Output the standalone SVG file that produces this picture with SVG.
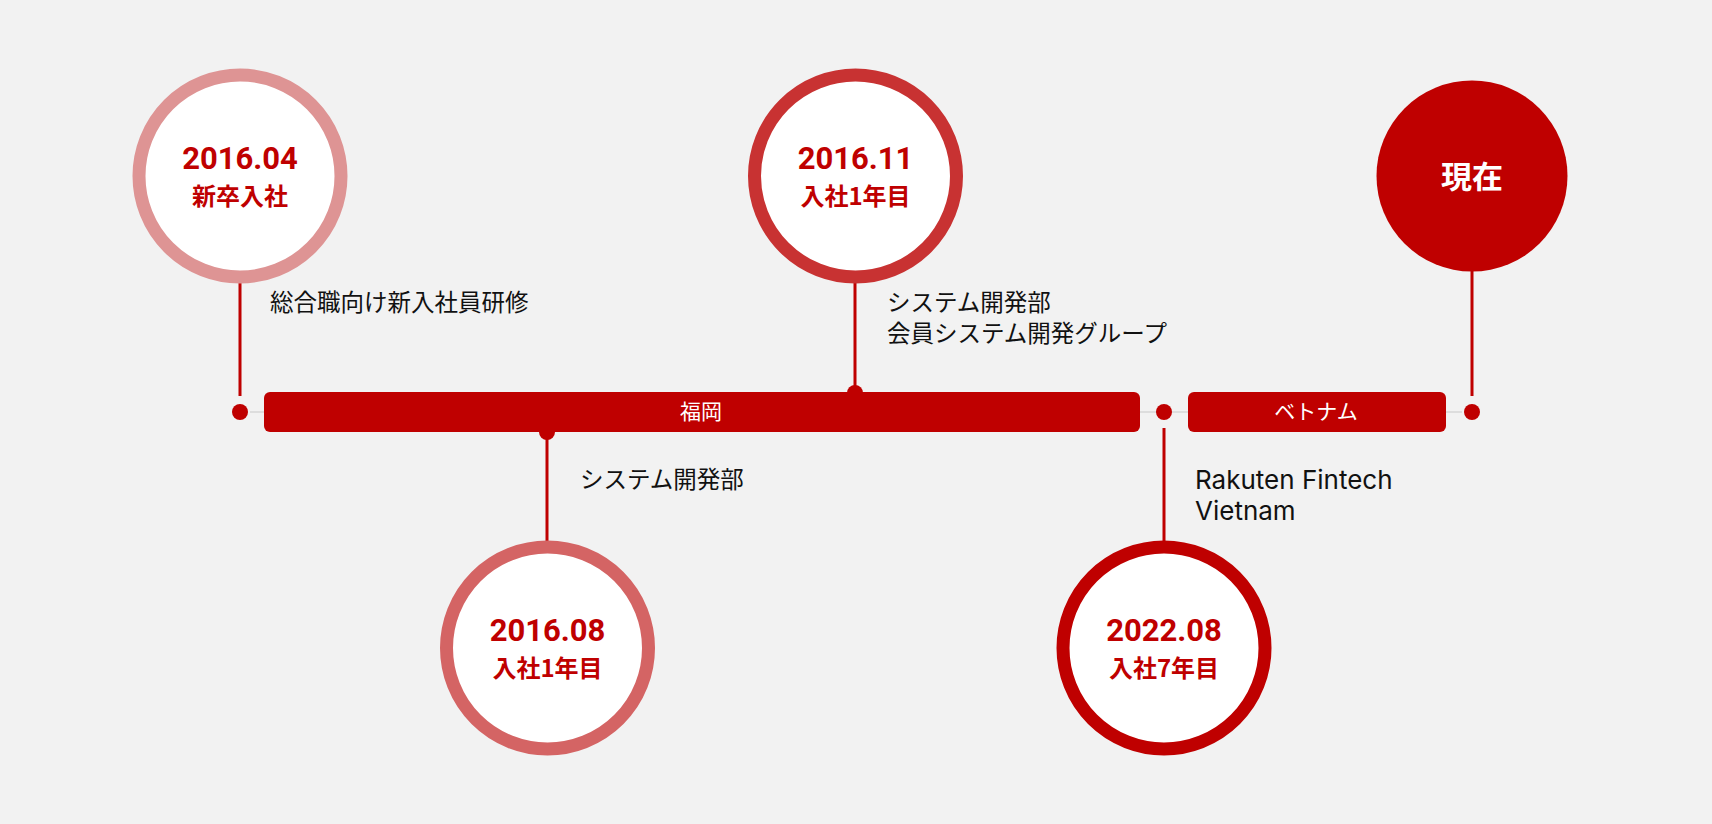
<svg xmlns="http://www.w3.org/2000/svg" width="1712" height="824" viewBox="0 0 1712 824">
<style>
.ring{fill:#fff;stroke-width:13}
.date{font-family:Roboto,"Noto Sans CJK JP",sans-serif;font-weight:700;font-size:31px;fill:#BF0000;text-anchor:middle}
.sub{font-family:"Noto Sans CJK JP",sans-serif;font-weight:700;font-size:24px;fill:#BF0000;text-anchor:middle}
.lbl{font-family:"Noto Sans CJK JP",sans-serif;font-size:23.5px;fill:#111}
.en{font-family:Inter,"Noto Sans",sans-serif;font-size:26px;fill:#111}
.bart{font-family:"Noto Sans CJK JP",sans-serif;font-size:21px;fill:#fff;text-anchor:middle}
.ln{stroke:#BF0000;stroke-width:3}
.dot{fill:#BF0000}
</style>
<rect width="1712" height="824" fill="#F2F2F2"/>
<g id="connectors">
<line x1="250" y1="412" x2="1462" y2="412" stroke="#DDDDDD" stroke-width="2"/>
<line class="ln" x1="240" y1="279" x2="240" y2="396"/>
<line class="ln" x1="855" y1="279" x2="855" y2="390"/>
<line class="ln" x1="547" y1="436" x2="547" y2="545"/>
<line class="ln" x1="1164" y1="428" x2="1164" y2="545"/>
<line class="ln" x1="1472" y1="270" x2="1472" y2="396"/>
<circle class="dot" cx="240" cy="412" r="8"/>
<circle class="dot" cx="855" cy="393" r="8"/>
<circle class="dot" cx="547" cy="432" r="8"/>
<circle class="dot" cx="1164" cy="412" r="8"/>
<circle class="dot" cx="1472" cy="412" r="8"/>
</g>
<g id="bar-fukuoka"><rect x="264" y="392" width="876" height="40" rx="6" fill="#BF0000"/><text class="bart" x="701" y="419">福岡</text></g>
<g id="bar-vietnam"><rect x="1188" y="392" width="258" height="40" rx="6" fill="#BF0000"/><text class="bart" x="1316" y="419">ベトナム</text></g>
<g id="n201604"><circle class="ring" cx="240" cy="176" r="101" stroke="#DE9494"/><text class="date" x="240" y="169">2016.04</text><text class="sub" x="240" y="205">新卒入社</text></g>
<g id="n201611"><circle class="ring" cx="855.5" cy="176" r="101" stroke="#C83232"/><text class="date" x="855.5" y="169">2016.11</text><text class="sub" x="855.5" y="205">入社1年目</text></g>
<g id="n201608"><circle class="ring" cx="547.5" cy="648" r="101" stroke="#D46464"/><text class="date" x="547.5" y="641">2016.08</text><text class="sub" x="547.5" y="677">入社1年目</text></g>
<g id="n202208"><circle class="ring" cx="1164" cy="648" r="101" stroke="#BF0000"/><text class="date" x="1164" y="641">2022.08</text><text class="sub" x="1164" y="677">入社7年目</text></g>
<g id="now"><circle cx="1472" cy="176" r="95.5" fill="#BF0000"/><text x="1472" y="188" text-anchor="middle" font-family="'Noto Sans CJK JP',sans-serif" font-weight="700" font-size="31" fill="#fff">現在</text></g>
<g id="labels">
<text class="lbl" x="270" y="311">総合職向け新入社員研修</text>
<text class="lbl" x="887" y="311">システム開発部</text>
<text class="lbl" x="887" y="342">会員システム開発グループ</text>
<text class="lbl" x="580" y="488">システム開発部</text>
<text class="en" x="1195" y="489">Rakuten Fintech</text>
<text class="en" x="1195" y="520">Vietnam</text>
</g>
</svg>
